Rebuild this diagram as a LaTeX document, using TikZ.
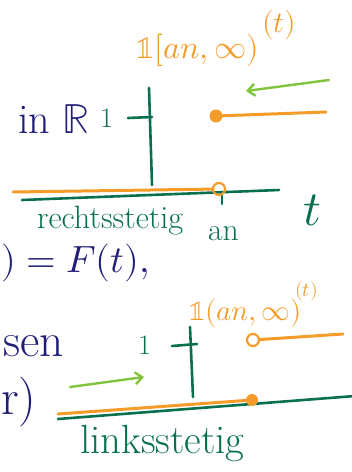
\documentclass[tikz,border=0pt]{standalone}
\usepackage{unicode-math}
\usetikzlibrary{arrows.meta}

\definecolor{penorange}{RGB}{244,155,42}
\definecolor{axisgreen}{RGB}{8,112,80}
\definecolor{hintgreen}{RGB}{128,196,62}
\definecolor{inkblue}{RGB}{32,30,118}

\tikzset{
  axis/.style={draw=axisgreen,line width=2.6mm,line cap=round},
  graph/.style={draw=penorange,line width=3mm,line cap=round},
  hint/.style={draw=hintgreen,line width=2.4mm,line cap=round,-{Straight Barb[length=7mm,width=12mm,line width=2.4mm]}},
  fulldot/.style={circle,fill=penorange,inner sep=0pt,minimum size=13mm},
  opendot/.style={circle,draw=penorange,line width=2.2mm,inner sep=0pt,minimum size=12mm},
  ink/.style={text=inkblue,anchor=base west,inner sep=0pt},
  lbl/.style={text=axisgreen,anchor=base west,inner sep=0pt},
  fn/.style={text=penorange,anchor=base west,inner sep=0pt}
}

\begin{document}
\begin{tikzpicture}[x=1mm,y=-1mm]
\useasboundingbox (0,0) rectangle (351,472);

% blue notes at the left edge
\node[ink,font=\fontsize{120}{130}\selectfont] (inR) at (18,133) {in $\mathbb{R}$};
\node[ink,font=\fontsize{108}{120}\selectfont] (eqF) at (1,272) {$)=F(t),$};
\node[ink,font=\fontsize{135}{140}\selectfont] (ssen) at (3,356) {sen};
\node[ink,font=\fontsize{142}{150}\selectfont] (rpar) at (1,414) {r)};

% upper plot: right-continuous
\node[fn,font=\fontsize{92}{100}\selectfont] (f1) at (136,58) {$\symbb{1}[an,\infty)$};
\node[fn,font=\fontsize{85}{90}\selectfont] (f1t) at (262,32) {$(t)$};
\coordinate (y1b) at (152,185);
\coordinate (y1t) at (149,88);
\coordinate (k1l) at (128,118);
\coordinate (k1r) at (152,117);
\coordinate (x1l) at (22,200);
\coordinate (x1r) at (279,190);
\coordinate (g1l) at (13,192);
\coordinate (g1r) at (326,112);
\coordinate (a1t) at (222,192);
\coordinate (a1b) at (222,204);
\draw[axis] (y1b) -- (y1t);
\draw[axis] (k1l) -- (k1r);
\draw[axis] (x1l) -- (x1r);
\draw[axis] (a1t) -- (a1b);
\node[opendot] (o1) at (219,189) {};
\draw[graph] (g1l) -- (o1);
\node[fulldot] (d1) at (216,116) {};
\draw[graph] (d1.center) -- (g1r);
\coordinate (h1s) at (329,80);
\coordinate (h1e) at (246,91);
\draw[hint] (h1s) -- (h1e);
\node[lbl,font=\fontsize{80}{85}\selectfont] (one1) at (100,127) {1};
\node[lbl,font=\fontsize{92}{100}\selectfont] (rs) at (37,228) {rechtsstetig};
\node[lbl,font=\fontsize{90}{95}\selectfont] (an) at (208,240) {an};
\node[lbl,font=\fontsize{140}{150}\selectfont] (tt) at (303,225) {$t$};

% lower plot: left-continuous
\node[fn,font=\fontsize{82}{90}\selectfont] (f2) at (189,320) {$\symbb{1}(an,\infty)$};
\node[fn,font=\fontsize{57}{60}\selectfont] (f2t) at (295,296) {$(t)$};
\coordinate (y2b) at (193,397);
\coordinate (y2t) at (190,327);
\coordinate (k2l) at (172,346);
\coordinate (k2r) at (197,344);
\coordinate (x2l) at (58,419);
\coordinate (x2r) at (355,396);
\coordinate (g2l) at (58,414);
\coordinate (g2r) at (343,334);
\draw[axis] (y2b) -- (y2t);
\draw[axis] (k2l) -- (k2r);
\draw[axis] (x2l) -- (x2r);
\node[fulldot,minimum size=12mm] (d2) at (252,400) {};
\draw[graph] (g2l) -- (d2.center);
\node[opendot] (o2) at (253,340) {};
\draw[graph] (o2) -- (g2r);
\coordinate (h2s) at (70,387);
\coordinate (h2e) at (144,377);
\draw[hint] (h2s) -- (h2e);
\node[lbl,font=\fontsize{80}{85}\selectfont] (one2) at (138,354) {1};
\node[lbl,font=\fontsize{116}{120}\selectfont] (ls) at (80,453) {linksstetig};
\end{tikzpicture}
\end{document}
